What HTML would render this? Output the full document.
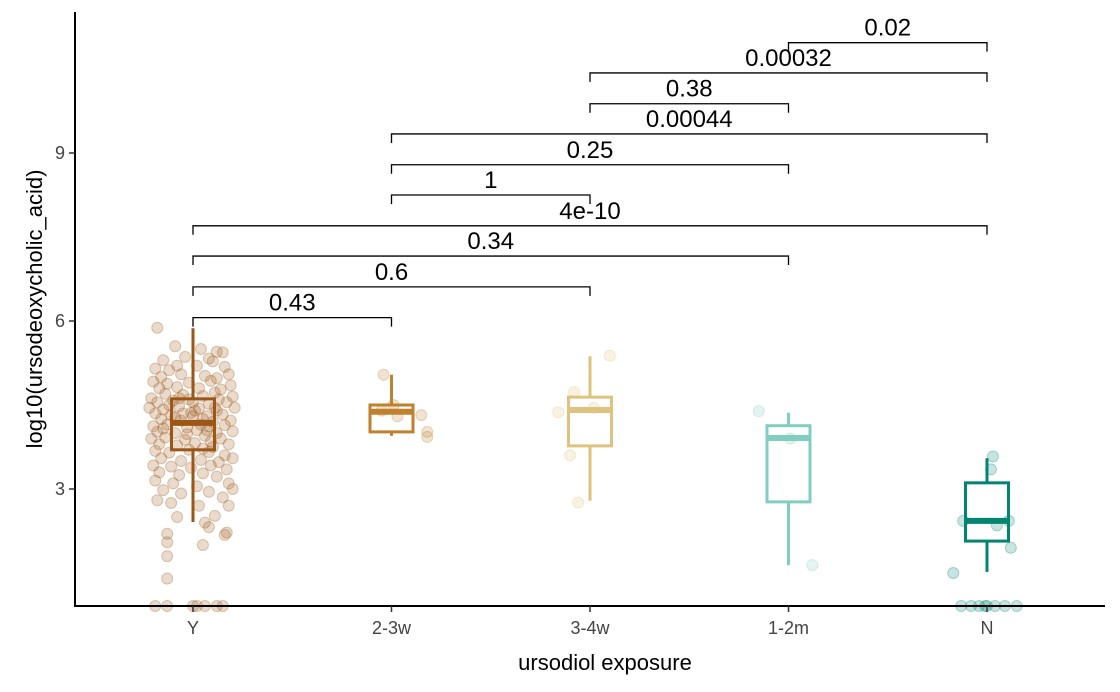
<!DOCTYPE html>
<html><head><meta charset="utf-8">
<style>
html,body{margin:0;padding:0;background:#fff;}
svg{display:block;font-family:"Liberation Sans",Arial,sans-serif;}
</style></head>
<body>
<svg id="chart" width="1120" height="692" viewBox="0 0 1120 692"></svg>
<script>
const categories = ["Y","2-3w","3-4w","1-2m","N"];
const colors = ["#9C5716","#BF812D","#DFC27D","#80CDC1","#018571"];
const lowerWhisker = [2.41,3.95,2.79,1.64,1.52];
const q1 = [3.70,4.02,3.77,2.77,2.07];
const median = [4.18,4.38,4.41,3.91,2.43];
const q3 = [4.61,4.50,4.64,4.13,3.11];
const upperWhisker = [5.87,5.04,5.37,4.36,3.55];
const yTicks = [3,6,9];
const compA = [0,0,0,0,1,1,1,2,2,3];
const compB = [1,2,3,4,2,3,4,3,4,4];
const compLabel = ["0.43","0.6","0.34","4e-10","1","0.25","0.00044","0.38","0.00032","0.02"];
const compY = [6.06,6.61,7.16,7.70,8.25,8.79,9.34,9.88,10.43,10.97];
const ptGroup = [];
const ptOff = [];
const ptVal = [];
const yPts = [
[-0.18,5.88],[-0.09,5.55],[0.04,5.50],[0.12,5.45],[0.15,5.44],[-0.15,5.30],[-0.04,5.36],[0.08,5.33],[0.10,5.28],[-0.08,5.20],
[-0.19,5.15],[-0.12,5.12],[0.02,5.20],[0.16,5.18],[0.18,5.05],[-0.16,5.00],[-0.06,5.05],[0.06,5.02],[0.12,4.98],[-0.20,4.92],
[-0.13,4.88],[-0.02,4.90],[0.09,4.93],[0.19,4.85],[-0.17,4.80],[-0.08,4.82],[0.03,4.80],[0.14,4.78],[-0.21,4.62],[-0.14,4.70],
[-0.05,4.68],[0.05,4.66],[0.11,4.72],[0.20,4.65],[-0.18,4.55],[-0.10,4.58],[0.00,4.55],[0.08,4.52],[0.17,4.55],[-0.22,4.45],
[-0.15,4.42],[-0.07,4.48],[0.03,4.44],[0.12,4.40],[0.21,4.45],[-0.19,4.35],[-0.11,4.32],[-0.01,4.36],[0.07,4.30],[0.15,4.33],
[-0.16,4.25],[-0.06,4.22],[0.05,4.25],[0.10,4.20],[0.19,4.22],[-0.20,4.12],[-0.13,4.15],[-0.03,4.10],[0.08,4.12],[0.16,4.14],
[-0.18,4.02],[-0.09,4.00],[0.02,4.05],[0.12,4.00],[0.20,4.03],[-0.21,3.90],[-0.14,3.92],[-0.04,3.88],[0.06,3.95],[0.14,3.90],
[-0.17,3.80],[-0.08,3.78],[0.01,3.82],[0.10,3.75],[0.18,3.80],[-0.19,3.68],[-0.12,3.65],[-0.02,3.70],[0.08,3.66],[0.16,3.60],
[-0.16,3.55],[-0.06,3.50],[0.04,3.52],[0.13,3.48],[0.20,3.55],[-0.20,3.42],[-0.11,3.40],[-0.01,3.38],[0.09,3.42],[0.17,3.35],
[-0.17,3.30],[-0.07,3.25],[0.05,3.28],[0.12,3.22],[-0.19,3.15],[-0.10,3.10],[0.02,3.05],[0.18,3.10],[0.20,3.00],[-0.15,2.98],
[-0.06,2.92],[0.08,2.95],[0.15,2.85],[-0.18,2.80],[-0.11,2.75],[0.03,2.70],[0.18,2.70],[-0.08,2.50],[0.11,2.52],[0.06,2.40],
[0.08,2.32],[0.17,2.22],[0.16,2.18],[-0.13,2.20],[-0.13,2.05],[0.05,2.00],[-0.13,1.80],[-0.13,1.40],[-0.19,0.91],[-0.13,0.91],
[0.00,0.91],[0.02,0.91],[0.06,0.91],[0.12,0.91],[0.15,0.91],[-0.05,4.35],[0.01,4.40],[-0.09,4.28],[0.04,4.15],[-0.02,4.60],
[0.07,4.05],[-0.12,4.50],[0.13,4.60],[-0.03,3.98],[0.09,3.85],[-0.15,4.08],[0.00,4.30],[-0.07,4.62],[0.11,4.45],[0.05,3.72]
];
const otherPts = [
[1,-0.04,5.04],[1,0.01,4.50],[1,0.15,4.32],[1,0.18,4.02],[1,0.18,3.93],[1,-0.05,4.40],[1,0.03,4.30],
[2,-0.16,4.37],[2,-0.08,4.73],[2,-0.10,3.60],[2,0.10,5.38],[2,-0.06,2.76],[2,0.02,4.45],
[3,-0.15,4.39],[3,0.12,1.64],[3,0.01,3.90],
[4,0.03,3.58],[4,0.02,3.35],[4,-0.17,1.50],[4,0.12,1.95],[4,0.11,2.43],[4,-0.12,2.43],[4,0.05,2.35],
[4,-0.13,0.91],[4,-0.08,0.91],[4,-0.04,0.91],[4,0.00,0.91],[4,0.04,0.91],[4,0.09,0.91],[4,0.15,0.91],[4,-0.01,0.91]
];
yPts.forEach(p=>{ptGroup.push(0);ptOff.push(p[0]);ptVal.push(p[1]);});
otherPts.forEach(p=>{ptGroup.push(p[0]);ptOff.push(p[1]);ptVal.push(p[2]);});

const svg = document.getElementById('chart');
const NS = 'http://www.w3.org/2000/svg';
const xL=75, xR=1105, yT=12, yB=606;
const xScale = i => 193 + i*198.5;
const yScale = v => 489 - (v-3)*56;
function mk(tag, attrs, parent){
  const e=document.createElementNS(NS,tag);
  for(const k in attrs) e.setAttribute(k,attrs[k]);
  (parent||svg).appendChild(e); return e;
}
const gp = mk('g',{});


for(let i=0;i<ptVal.length;i++){
  const c = mk('circle',{cx:xScale(ptGroup[i]+ptOff[i]),cy:yScale(ptVal[i]),r:5.5,fill:colors[ptGroup[i]],'fill-opacity':0.22,stroke:colors[ptGroup[i]],'stroke-opacity':0.3,'stroke-width':1},gp);
  
  
}
for(let i=0;i<categories.length;i++){
  const g=mk('g',{stroke:colors[i],fill:'none','stroke-width':3});
  
  
  const x=xScale(i), hw=21.5;
  mk('line',{x1:x,x2:x,y1:yScale(upperWhisker[i]),y2:yScale(q3[i])},g);
  mk('line',{x1:x,x2:x,y1:yScale(q1[i]),y2:yScale(lowerWhisker[i])},g);
  mk('rect',{x:x-hw,y:yScale(q3[i]),width:2*hw,height:yScale(q1[i])-yScale(q3[i])},g);
  mk('line',{x1:x-hw,x2:x+hw,y1:yScale(median[i]),y2:yScale(median[i]),'stroke-width':6},g);
}
for(let k=0;k<compLabel.length;k++){
  const g=mk('g',{});
  
  
  const xa=xScale(compA[k]), xb=xScale(compB[k]), y=yScale(compY[k]);
  mk('path',{d:`M${xa},${y+9}V${y}H${xb}V${y+9}`,fill:'none',stroke:'#000','stroke-width':1.3},g);
  const t=mk('text',{x:(xa+xb)/2,y:y-7,'text-anchor':'middle','font-size':24,fill:'#000'},g);
  t.textContent=compLabel[k];
}
const ax=mk('path',{d:`M${xL},${yT}V${yB}H${xR}`,fill:'none',stroke:'#000','stroke-width':2});


yTicks.forEach(v=>{
  const y=yScale(v);
  mk('line',{x1:xL-6,x2:xL,y1:y,y2:y,stroke:'#333','stroke-width':1.5});
  const t=mk('text',{x:xL-10,y:y+6,'text-anchor':'end','font-size':18,fill:'#444'});
  
  
  t.textContent=v;
});
categories.forEach((c,i)=>{
  const x=xScale(i);
  mk('line',{x1:x,x2:x,y1:yB,y2:yB+6,stroke:'#333','stroke-width':1.5});
  const t=mk('text',{x:x,y:yB+28,'text-anchor':'middle','font-size':18,fill:'#444'});
  
  
  t.textContent=c;
});
const xt=mk('text',{x:(xL+xR)/2+15,y:670,'text-anchor':'middle','font-size':22,fill:'#000'});


xt.textContent='ursodiol exposure';
const yt=mk('text',{x:0,y:0,'text-anchor':'middle','font-size':22,fill:'#000',transform:`translate(42,${(yT+yB)/2}) rotate(-90)`});


yt.textContent='log10(ursodeoxycholic_acid)';
</script>
</body></html>
